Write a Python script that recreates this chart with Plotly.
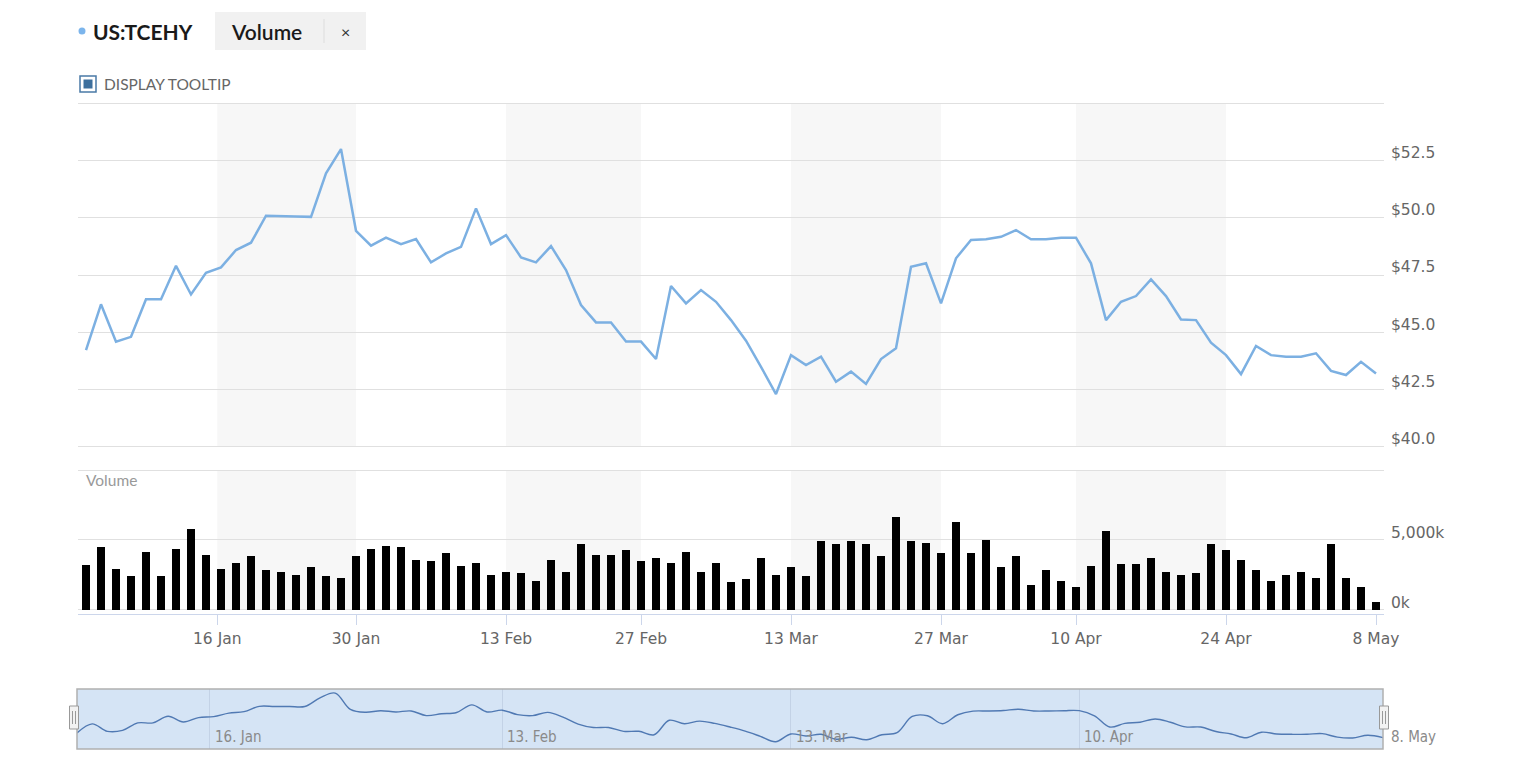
import pandas as pd
import numpy as np
import plotly.graph_objects as go

# page body has an 8px margin, so the figure is drawn 8px in from the window edge
OFF = 8
W, H = 1522 - OFF, 770 - OFF

# trading days shown (2017)
jan = [3, 4, 5, 6, 9, 10, 11, 12, 13, 17, 18, 19, 20, 23, 24, 25, 26, 27, 30, 31]
feb = [1, 2, 3, 6, 7, 8, 9, 10, 13, 14, 15, 16, 17, 21, 22, 23, 24, 27, 28]
mar = [1, 2, 3, 6, 7, 8, 9, 10, 13, 14, 15, 16, 17, 20, 21, 22, 23, 24, 27, 28, 29, 30, 31]
apr = [3, 4, 5, 6, 10, 11, 12, 13, 14, 17, 18, 19, 20, 21, 24, 25, 26, 27, 28]
may = [1, 2, 3, 4, 5, 8]

close = [
    44.22, 46.22, 44.59, 44.80, 46.44, 46.44, 47.90, 46.65, 47.60, 47.83,
    48.59, 48.91, 50.09, 50.06, 50.06, 50.04, 51.94, 53.00, 49.43, 48.78,
    49.13, 48.85, 49.07, 48.05, 48.44, 48.73, 50.41, 48.85, 49.24, 48.27,
    48.05, 48.76, 47.72, 46.19, 45.43, 45.43, 44.59, 44.59, 43.83, 47.02,
    46.26, 46.84, 46.33, 45.53, 44.63, 43.49, 42.30, 44.00, 43.57, 43.93,
    42.84, 43.28, 42.74, 43.83, 44.30, 47.86, 48.01, 46.26, 48.23, 49.03,
    49.06, 49.17, 49.46, 49.06, 49.06, 49.13, 49.13, 48.01, 45.53, 46.33,
    46.58, 47.31, 46.58, 45.56, 45.53, 44.54, 44.00, 43.17, 44.40, 44.00,
    43.93, 43.93, 44.08, 43.31, 43.13, 43.71, 43.20,
]

volume_k = [
    3204, 4490, 2961, 2427, 4175, 2427, 4393, 5825, 3956, 2961,
    3398, 3835, 2864, 2743, 2524, 3082, 2427, 2306, 3835, 4393,
    4611, 4490, 3616, 3519, 4053, 3180, 3398, 2524, 2743, 2645,
    2087, 3616, 2743, 4708, 3956, 3956, 4272, 3519, 3738, 3398,
    4175, 2743, 3398, 1990, 2209, 3738, 2524, 3082, 2427, 4927,
    4708, 4927, 4708, 3835, 6674, 4927, 4830, 4053, 6335, 4053,
    5024, 3082, 3835, 1772, 2864, 2087, 1650, 3180, 5703, 3301,
    3301, 3738, 2743, 2524, 2645, 4708, 4272, 3616, 2864, 2087,
    2524, 2743, 2306, 4708, 2306, 1650, 558,
]

tick_dates = ["2017-01-16", "2017-01-30", "2017-02-13", "2017-02-27", "2017-03-13",
              "2017-03-27", "2017-04-10", "2017-04-24", "2017-05-08"]
tick_labels = ["16 Jan", "30 Jan", "13 Feb", "27 Feb", "13 Mar", "27 Mar", "10 Apr", "24 Apr", "8 May"]
nav_tick_dates = ["2017-01-16", "2017-02-13", "2017-03-13", "2017-04-10"]
nav_labels = ["16. Jan", "13. Feb", "13. Mar", "10. Apr"]
price_ticks = [40.0, 42.5, 45.0, 47.5, 50.0, 52.5, 55.0]
vol_ticks = [0, 5000, 10000]

dates = [f"2017-{m:02d}-{d:02d}" for m, days in [(1, jan), (2, feb), (3, mar), (4, apr), (5, may)] for d in days]
dts = pd.to_datetime(dates)
idx = np.arange(len(dates))

# ordinal axis: place ticks by interpolating calendar time between trading days
def ordinal_pos(ds):
    t = pd.to_datetime(ds).map(pd.Timestamp.toordinal).values
    return list(np.interp(t, dts.map(pd.Timestamp.toordinal).values, idx))

tick_pos = ordinal_pos(tick_dates)
nav_pos = ordinal_pos(nav_tick_dates)

def px(x):
    return (x - OFF) / W

def py(y):
    return 1 - (y - OFF) / H

GRID = "#e0e0e0"
TICK_FONT = dict(family="DejaVu Sans, Verdana, sans-serif", size=15.5, color="#666666")
NAV_FONT = dict(family="Liberation Sans Narrow, DejaVu Sans Condensed, Arial Narrow, sans-serif",
                size=15, color="#8a8a8a")

fig = go.Figure()

fig.add_trace(go.Scatter(x=idx, y=close, mode="lines", xaxis="x", yaxis="y",
                         line=dict(color="#7cb0e2", width=2.5), hoverinfo="skip"))
fig.add_trace(go.Bar(x=idx, y=[v * 1000 for v in volume_k], xaxis="x", yaxis="y2",
                     marker=dict(color="#000000", line=dict(width=0)), width=0.47, hoverinfo="skip"))
fig.add_trace(go.Scatter(x=idx, y=close, mode="lines", xaxis="x3", yaxis="y3",
                         line=dict(color="#5079b3", width=1.4, shape="spline", smoothing=1.0),
                         hoverinfo="skip"))

P = dict(xref="paper", yref="paper")
shapes = []
# alternating bands
for a, b in zip(tick_pos[0:8:2], tick_pos[1:8:2]):
    for yr, y0, y1 in [("y", 40, 55), ("y2", 0, 1e7)]:
        shapes.append(dict(type="rect", xref="x", yref=yr, x0=a, x1=b, y0=y0, y1=y1,
                           fillcolor="#f7f7f7", line=dict(width=0), layer="below"))
# navigator background
shapes.append(dict(type="rect", xref="x3 domain", yref="y3 domain", x0=0, x1=1, y0=0, y1=1,
                   fillcolor="#d5e4f5", line=dict(width=0), layer="below"))
shapes.append(dict(type="rect", xref="x3 domain", yref="y3 domain", x0=0, x1=1, y0=0, y1=1,
                   fillcolor="rgba(0,0,0,0)", line=dict(color="#b0b0b0", width=1.5), layer="above"))
# navigator handles
for cx in [74, 1384]:
    shapes.append(dict(type="rect", **P, x0=px(cx - 4.5), x1=px(cx + 4.5),
                       y0=py(729), y1=py(706), fillcolor="#f2f2f2", line=dict(color="#999999", width=1)))
    for dx in [-1.5, 1.5]:
        shapes.append(dict(type="line", **P, x0=px(cx + dx), x1=px(cx + dx),
                           y0=py(724), y1=py(711), line=dict(color="#999999", width=1)))
# header widgets
shapes.append(dict(type="circle", **P, x0=px(78.5), x1=px(85.5),
                   y0=py(34.5), y1=py(27.5), fillcolor="#7cb5ec", line=dict(width=0)))
shapes.append(dict(type="rect", **P, x0=px(215), x1=px(366),
                   y0=py(50), y1=py(12), fillcolor="#f1f1f1", line=dict(width=0)))
shapes.append(dict(type="line", **P, x0=px(324), x1=px(324),
                   y0=py(43), y1=py(19), line=dict(color="#dddddd", width=1)))
shapes.append(dict(type="rect", **P, x0=px(80), x1=px(96),
                   y0=py(92), y1=py(76), fillcolor="#ffffff", line=dict(color="#4a7aa6", width=1.5)))
shapes.append(dict(type="rect", **P, x0=px(83.5), x1=px(92.5),
                   y0=py(88.5), y1=py(79.5), fillcolor="#3d6f9d", line=dict(width=0)))

annotations = [
    dict(**P, x=px(91), y=py(31), text="<b>US:TCEHY</b>", showarrow=False, xanchor="left", yanchor="middle",
         font=dict(family="Lato, sans-serif", size=21, color="#1a1a1a")),
    dict(**P, x=px(229), y=py(31), text="Volume", showarrow=False, xanchor="left", yanchor="middle",
         font=dict(family="Lato, sans-serif", size=21, color="#1a1a1a", weight=600)),
    dict(**P, x=px(345), y=py(31), text="×", showarrow=False, xanchor="center", yanchor="middle",
         font=dict(family="Lato, sans-serif", size=16, color="#333333")),
    dict(**P, x=px(102), y=py(84), text="DISPLAY TOOLTIP", showarrow=False, xanchor="left", yanchor="middle",
         font=dict(family="Lato, sans-serif", size=15.5, color="#666666")),
    dict(**P, x=px(84), y=py(480), text="Volume", showarrow=False, xanchor="left", yanchor="middle",
         font=dict(family="Lato, sans-serif", size=15.5, color="#999999")),
]
for p, t in zip(nav_pos, nav_labels):
    annotations.append(dict(x=p, y=0, xref="x3", yref="y3 domain", text=t, showarrow=False,
                            xanchor="left", yanchor="bottom", xshift=3, yshift=1, font=NAV_FONT))
annotations.append(dict(x=1, y=0, xref="x3 domain", yref="y3 domain", text="8. May", showarrow=False,
                        xanchor="left", yanchor="bottom", xshift=6, yshift=1, font=NAV_FONT))

fig.update_layout(
    width=W, height=H,
    margin=dict(l=0, r=0, t=0, b=0),
    paper_bgcolor="#ffffff", plot_bgcolor="rgba(0,0,0,0)",
    showlegend=False, bargap=0,
    shapes=shapes, annotations=annotations,
    xaxis=dict(domain=[px(78), px(1384)], range=[-0.5333, 86.5333], anchor="y2",
               tickvals=tick_pos, ticktext=tick_labels, ticks="outside", ticklen=10,
               tickcolor="#ccd6eb", showline=True, linecolor="#ccd6eb", linewidth=1,
               showgrid=False, zeroline=False, tickfont=TICK_FONT, automargin=False, fixedrange=True),
    # ranges padded a little so the end grid lines are still drawn
    yaxis=dict(domain=[py(449.0), py(101.0)], range=[39.9, 55.1], anchor="x", side="right",
               tickvals=price_ticks, ticktext=[f"${v:.1f}" for v in price_ticks[:-1]] + [""],
               showgrid=True, gridcolor=GRID, gridwidth=1, zeroline=False, showline=False,
               tickfont=TICK_FONT, ticklabelshift=-8, ticklabelstandoff=6, automargin=False),
    yaxis2=dict(domain=[py(614), py(467.7)], range=[-323.7e3, 1.02e7], anchor="x", side="right",
                tickvals=[v * 1000 for v in vol_ticks],
                ticktext=[f"{v:,}k" for v in vol_ticks[:-1]] + [""],
                showgrid=True, gridcolor=GRID, gridwidth=1, zeroline=False, showline=False,
                tickfont=TICK_FONT, ticklabelshift=-7, ticklabelstandoff=6, automargin=False),
    xaxis3=dict(domain=[px(77), px(1383)], range=[0, 86], anchor="y3",
                tickvals=nav_pos, showticklabels=False, ticks="", showgrid=True,
                gridcolor="#c3d2e6", zeroline=False, showline=False, automargin=False),
    yaxis3=dict(domain=[py(749), py(689)], range=[40.7, 53.9], anchor="x3",
                showticklabels=False, showgrid=False, zeroline=False, automargin=False),
)

fig.write_html("out.html")
